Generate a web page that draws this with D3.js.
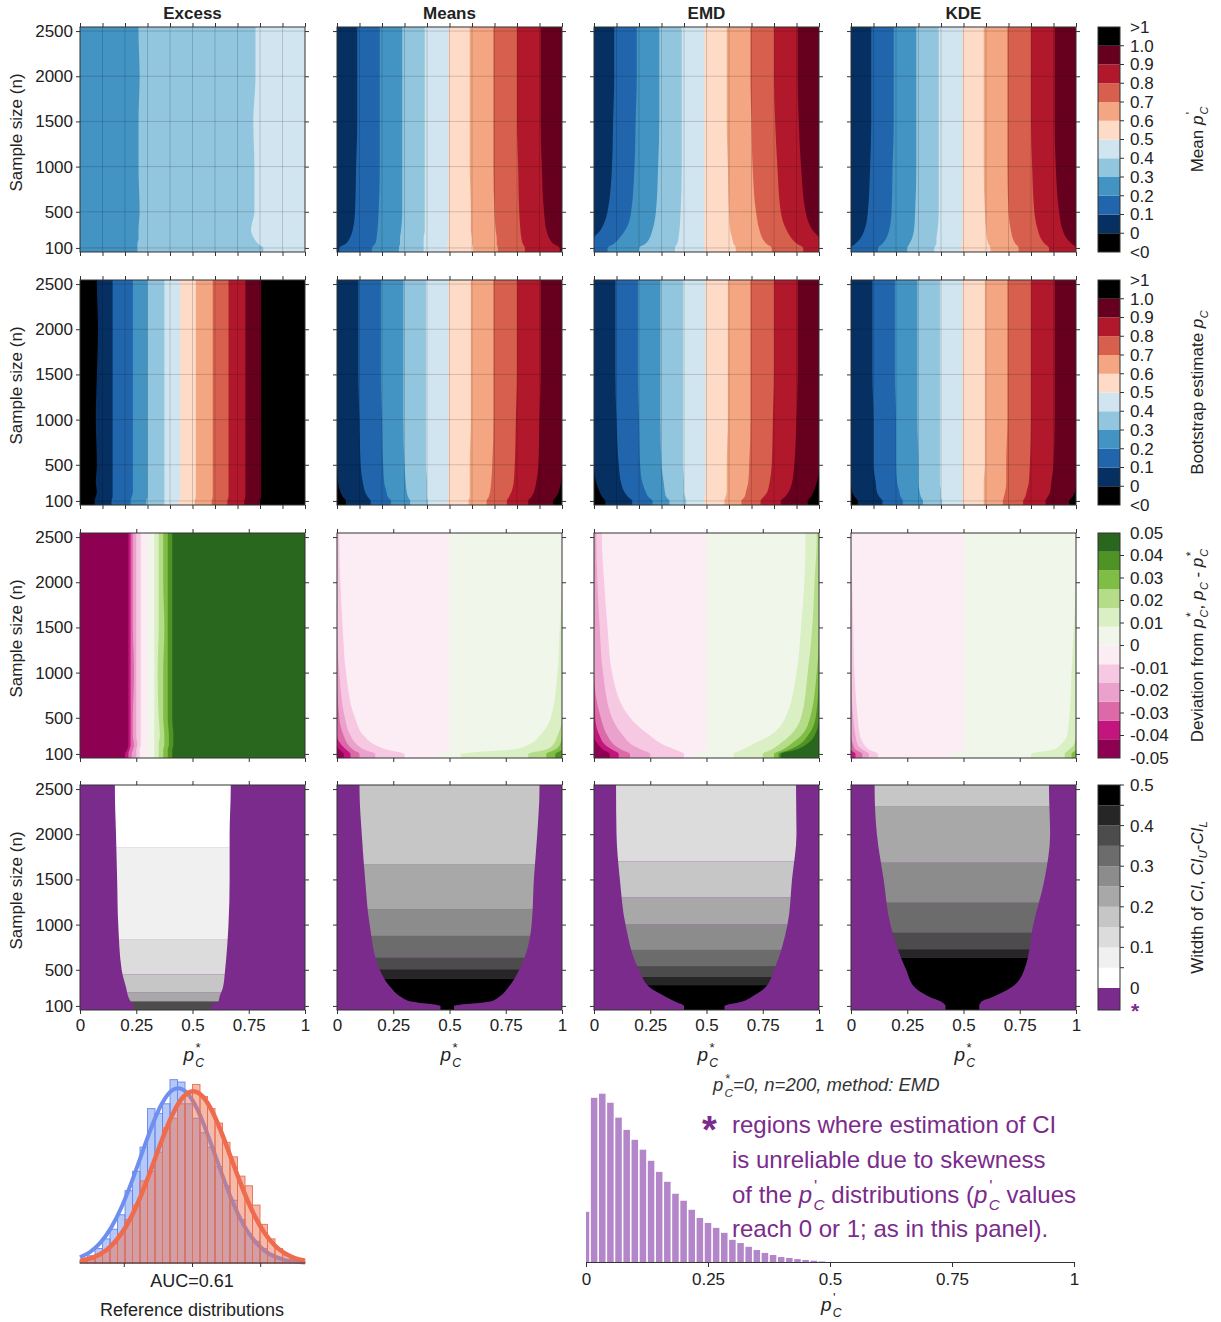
<!DOCTYPE html>
<html><head><meta charset="utf-8">
<script src="https://cdn.jsdelivr.net/npm/d3@7"></script>
<style>
body{margin:0;background:#fff}
text{font-family:"Liberation Sans",Arial,Helvetica,sans-serif;fill:#222}
</style>
</head><body><svg id="c" width="1221" height="1322"></svg>
<script>
// ================= DATA =================
const methods = ["Excess","Means","EMD","KDE"];
const nTicks = [100,500,1000,1500,2000,2500];
const xTicksFine = [0,0.1,0.2,0.3,0.4,0.5,0.6,0.7,0.8,0.9,1];
const xTicksMain = [0,0.25,0.5,0.75,1];
const xTickText = ["0","0.25","0.5","0.75","1"];
const nRead = [100,150,200,300,500,1000,1500,2000,2500];

// colour scales
const rdbuColors = ["#000000","#053061","#2166ac","#4393c3","#92c5de","#d1e5f0","#fddbc7","#f4a582","#d6604d","#b2182b","#67001f","#000000"];
const rdbuLabels = ["<0","0","0.1","0.2","0.3","0.4","0.5","0.6","0.7","0.8","0.9","1.0",">1"];
const piygColors = ["#8e0152","#c4157e","#dc6aa8","#eaa1cc","#f6c8e2","#fcedf5","#f1f6ea","#dbefc5","#b5dc88","#80bd45","#4f9325","#2a671e"];
const piygLabels = ["-0.05","-0.04","-0.03","-0.02","-0.01","0","0.01","0.02","0.03","0.04","0.05"];
const greyColors = ["#ffffff","#f0f0f0","#dcdcdc","#c6c6c6","#a8a8a8","#8c8c8c","#6c6c6c","#4c4c4c","#262626","#000000"];
const greyLabels = ["0","0.1","0.2","0.3","0.4","0.5"];
const unreliableColor = "#7b2b8c";

// Row 1: mean p'_C. first band index, then p* where each next band starts (per nRead)
const meanStart = [3,1,1,1];
const meanEdgesExcess = [
  [0.255,0.255,0.26,0.26,0.265,0.26,0.26,0.265,0.26],
  [0.815,0.79,0.775,0.76,0.775,0.775,0.77,0.78,0.78]];
const meanEdgesMeans = [
  [0.01,0.04,0.055,0.07,0.08,0.085,0.09,0.09,0.09],
  [0.155,0.17,0.175,0.18,0.185,0.19,0.19,0.19,0.19],
  [0.275,0.28,0.28,0.285,0.29,0.29,0.29,0.29,0.29],
  [0.385,0.385,0.385,0.39,0.39,0.39,0.39,0.39,0.39],
  [0.49,0.49,0.495,0.495,0.495,0.495,0.495,0.495,0.495],
  [0.605,0.6,0.6,0.595,0.595,0.59,0.59,0.59,0.59],
  [0.715,0.71,0.71,0.705,0.7,0.695,0.695,0.695,0.695],
  [0.835,0.825,0.82,0.815,0.81,0.805,0.8,0.8,0.8],
  [0.99,0.96,0.945,0.93,0.92,0.91,0.905,0.905,0.905]];
const meanEdgesEMD = [
  [0.0,0.0,0.0,0.03,0.06,0.08,0.085,0.09,0.09],
  [0.06,0.09,0.11,0.14,0.165,0.18,0.185,0.19,0.19],
  [0.2,0.23,0.245,0.26,0.275,0.285,0.29,0.29,0.29],
  [0.36,0.37,0.375,0.38,0.385,0.39,0.39,0.39,0.39],
  [0.49,0.49,0.49,0.49,0.49,0.49,0.49,0.49,0.49],
  [0.63,0.62,0.615,0.605,0.6,0.595,0.59,0.59,0.59],
  [0.79,0.765,0.75,0.735,0.72,0.705,0.7,0.695,0.695],
  [0.93,0.9,0.88,0.855,0.83,0.815,0.805,0.8,0.8],
  [1.0,1.0,1.0,0.97,0.94,0.92,0.91,0.905,0.905]];
const meanEdgesKDE = [
  [0.0,0.02,0.04,0.06,0.075,0.085,0.09,0.09,0.09],
  [0.12,0.14,0.155,0.17,0.18,0.185,0.19,0.19,0.19],
  [0.25,0.26,0.27,0.28,0.285,0.29,0.29,0.29,0.29],
  [0.37,0.38,0.38,0.385,0.39,0.39,0.39,0.39,0.39],
  [0.49,0.49,0.495,0.495,0.495,0.495,0.495,0.495,0.495],
  [0.62,0.61,0.605,0.6,0.595,0.59,0.59,0.59,0.59],
  [0.745,0.73,0.72,0.71,0.7,0.695,0.695,0.695,0.695],
  [0.88,0.86,0.845,0.83,0.815,0.805,0.8,0.8,0.8],
  [1.0,0.98,0.96,0.94,0.925,0.91,0.905,0.905,0.905]];

// Row 2: bootstrap estimate p_C (edges at thresholds 0,0.1,...,1.0)
const bootStart = [0,0,0,0];
const bootEdgesExcess = [
  [0.065,0.07,0.075,0.07,0.075,0.07,0.075,0.08,0.075],
  [0.14,0.145,0.145,0.145,0.145,0.145,0.145,0.145,0.145],
  [0.225,0.23,0.235,0.235,0.235,0.235,0.235,0.235,0.235],
  [0.295,0.3,0.3,0.3,0.3,0.3,0.3,0.3,0.3],
  [0.375,0.375,0.375,0.375,0.375,0.375,0.375,0.375,0.375],
  [0.44,0.445,0.445,0.445,0.445,0.445,0.445,0.445,0.445],
  [0.51,0.515,0.515,0.515,0.515,0.515,0.515,0.515,0.515],
  [0.585,0.59,0.59,0.59,0.59,0.59,0.59,0.59,0.59],
  [0.655,0.66,0.66,0.66,0.66,0.66,0.66,0.66,0.66],
  [0.73,0.735,0.735,0.735,0.735,0.735,0.735,0.735,0.735],
  [0.8,0.805,0.805,0.805,0.805,0.805,0.805,0.805,0.805]];
const bootEdgesMeans = [
  [0.04,0.025,0.015,0.005,0,0,0,0,0],
  [0.15,0.135,0.125,0.115,0.105,0.1,0.095,0.095,0.095],
  [0.24,0.225,0.22,0.21,0.205,0.2,0.195,0.195,0.195],
  [0.325,0.315,0.31,0.305,0.3,0.295,0.295,0.295,0.295],
  [0.405,0.4,0.4,0.4,0.395,0.395,0.395,0.395,0.395],
  [0.49,0.495,0.495,0.495,0.495,0.495,0.495,0.495,0.495],
  [0.585,0.59,0.59,0.59,0.59,0.595,0.595,0.595,0.595],
  [0.665,0.675,0.68,0.685,0.69,0.695,0.695,0.695,0.695],
  [0.755,0.765,0.775,0.785,0.79,0.795,0.8,0.8,0.8],
  [0.85,0.865,0.875,0.885,0.895,0.9,0.905,0.905,0.905],
  [0.96,0.975,0.985,0.995,1,1,1,1,1]];
const bootEdgesEMD = [
  [0.05,0.035,0.025,0.01,0,0,0,0,0],
  [0.17,0.15,0.135,0.12,0.11,0.1,0.095,0.095,0.095],
  [0.26,0.24,0.23,0.215,0.205,0.2,0.195,0.195,0.195],
  [0.335,0.32,0.315,0.31,0.3,0.295,0.295,0.295,0.295],
  [0.41,0.405,0.4,0.4,0.395,0.395,0.395,0.395,0.395],
  [0.49,0.49,0.495,0.495,0.495,0.495,0.495,0.495,0.495],
  [0.58,0.585,0.59,0.59,0.59,0.595,0.595,0.595,0.595],
  [0.655,0.67,0.675,0.685,0.69,0.695,0.695,0.695,0.695],
  [0.74,0.755,0.77,0.78,0.79,0.795,0.8,0.8,0.8],
  [0.83,0.85,0.865,0.88,0.89,0.9,0.905,0.905,0.905],
  [0.95,0.965,0.975,0.99,1,1,1,1,1]];
const bootEdgesKDE = [
  [0.03,0.015,0.005,0,0,0,0,0,0],
  [0.14,0.125,0.115,0.11,0.1,0.1,0.095,0.095,0.095],
  [0.23,0.22,0.215,0.205,0.2,0.2,0.195,0.195,0.195],
  [0.32,0.31,0.305,0.3,0.3,0.295,0.295,0.295,0.295],
  [0.405,0.4,0.4,0.395,0.395,0.395,0.395,0.395,0.395],
  [0.495,0.495,0.495,0.495,0.495,0.495,0.495,0.495,0.495],
  [0.59,0.59,0.59,0.59,0.595,0.595,0.595,0.595,0.595],
  [0.675,0.68,0.685,0.69,0.69,0.695,0.695,0.695,0.695],
  [0.765,0.775,0.78,0.79,0.795,0.8,0.8,0.8,0.8],
  [0.865,0.875,0.885,0.89,0.9,0.905,0.905,0.905,0.905],
  [0.97,0.985,0.995,1,1,1,1,1,1]];

// Row 3 Excess: vertical bands (piyg index 0 first, then edges for index 1..11)
const devEdgesExcess = [
  [0.2,0.21,0.215,0.215,0.215,0.215,0.215,0.215,0.215],
  [0.215,0.22,0.225,0.225,0.225,0.225,0.225,0.225,0.225],
  [0.23,0.235,0.24,0.235,0.235,0.24,0.235,0.235,0.235],
  [0.25,0.25,0.255,0.25,0.25,0.25,0.25,0.25,0.25],
  [0.265,0.265,0.27,0.27,0.27,0.27,0.27,0.27,0.27],
  [0.3,0.3,0.3,0.3,0.3,0.3,0.3,0.3,0.3],
  [0.33,0.33,0.33,0.33,0.33,0.33,0.33,0.33,0.33],
  [0.35,0.35,0.35,0.355,0.35,0.345,0.35,0.35,0.35],
  [0.37,0.37,0.375,0.375,0.37,0.37,0.375,0.37,0.37],
  [0.39,0.39,0.395,0.395,0.39,0.39,0.39,0.39,0.39],
  [0.41,0.41,0.415,0.415,0.41,0.41,0.41,0.41,0.41]];
// Row 3 others: pink regions grow from p*=0 (right edge given, indices 4..0),
// green regions grow from p*=1 (left edge given, indices 7..11), pale green from zero edge
const devZeroEdge = [0.45,0.5,0.5,0.5,0.5,0.5,0.5,0.5,0.5];
const devPinkMeans = [
  [0.30,0.22,0.17,0.12,0.08,0.04,0.025,0.015,0.01],
  [0.17,0.12,0.09,0.06,0.035,0.01,0,0,0],
  [0.10,0.07,0.05,0.03,0.01,0,0,0,0],
  [0.06,0.04,0.02,0,0,0,0,0,0],
  [0.03,0.01,0,0,0,0,0,0,0]];
const devGreenMeans = [
  [0.55,0.78,0.85,0.9,0.95,0.98,0.99,1,1],
  [0.85,0.93,0.96,0.98,1,1,1,1,1],
  [0.93,0.97,0.99,1,1,1,1,1,1],
  [0.97,1,1,1,1,1,1,1,1],
  [1,1,1,1,1,1,1,1,1]];
const devPinkEMD = [
  [0.40,0.36,0.31,0.25,0.16,0.08,0.06,0.045,0.035],
  [0.25,0.21,0.17,0.13,0.08,0.04,0.025,0.015,0.01],
  [0.16,0.12,0.09,0.06,0.03,0,0,0,0],
  [0.11,0.08,0.05,0.025,0.005,0,0,0,0],
  [0.07,0.04,0.02,0,0,0,0,0,0]];
const devGreenEMD = [
  [0.62,0.66,0.70,0.78,0.85,0.90,0.92,0.935,0.94],
  [0.75,0.79,0.82,0.87,0.92,0.95,0.97,0.98,0.99],
  [0.80,0.84,0.87,0.92,0.96,0.99,1,1,1],
  [0.82,0.87,0.91,0.95,0.985,1,1,1,1],
  [0.83,0.90,0.94,0.98,1,1,1,1,1]];
const devPinkKDE = [
  [0.12,0.08,0.06,0.04,0.03,0.015,0.01,0.005,0],
  [0.08,0.05,0.03,0.02,0.01,0,0,0,0],
  [0.05,0.02,0.01,0,0,0,0,0,0],
  [0.02,0,0,0,0,0,0,0,0],
  [0,0,0,0,0,0,0,0,0]];
const devGreenKDE = [
  [0.8,0.9,0.93,0.96,0.97,0.98,0.99,1,1],
  [0.95,0.97,0.99,1,1,1,1,1,1],
  [0.98,1,1,1,1,1,1,1,1],
  [1,1,1,1,1,1,1,1,1],
  [1,1,1,1,1,1,1,1,1]];

// Row 4: CI width. reliable region [left,right] per nRead; grey level bands from n upwards
const ciLeft = [
  [0.24,0.225,0.215,0.205,0.185,0.17,0.165,0.16,0.155],
  [0.46,0.33,0.285,0.24,0.19,0.145,0.125,0.11,0.10],
  [0.40,0.36,0.32,0.25,0.20,0.14,0.115,0.10,0.098],
  [0.42,0.40,0.35,0.285,0.245,0.175,0.145,0.115,0.105]];
const ciRight = [
  [0.58,0.615,0.62,0.635,0.645,0.66,0.665,0.665,0.67],
  [0.52,0.68,0.72,0.76,0.81,0.865,0.875,0.89,0.90],
  [0.58,0.66,0.70,0.76,0.80,0.86,0.88,0.90,0.898],
  [0.57,0.58,0.63,0.71,0.77,0.81,0.86,0.885,0.88]];
const ciBandN = [
  [55,150,250,450,840,1850],
  [55,400,505,634,875,1170,1670],
  [55,330,420,540,720,1000,1300,1700],
  [55,634,727,911,1243,1685,2312]];
const ciBandLevel = [
  [7,4,3,2,1,0],
  [9,8,7,6,5,4,3],
  [9,8,7,6,5,4,3,2],
  [9,8,7,6,5,4,3]];

// Bottom-left: reference distributions (histogram densities per bin, fitted curves)
const refBinStart = -3.3, refBinWidth = 0.22;
const refBlue = [0.005,0.015,0.03,0.05,0.07,0.10,0.15,0.19,0.24,0.32,0.31,0.33,0.38,0.375,0.33,0.30,0.27,0.24,0.20,0.16,0.13,0.09,0.06,0.045,0.03,0.018,0.01,0.006,0.003,0.001];
const refOrange = [0.003,0.008,0.015,0.025,0.04,0.06,0.09,0.12,0.17,0.19,0.23,0.28,0.30,0.33,0.355,0.37,0.345,0.32,0.29,0.25,0.22,0.18,0.16,0.12,0.08,0.05,0.03,0.015,0.008,0.004];
const curveX = [-3.3,-3.0,-2.7,-2.4,-2.1,-1.8,-1.5,-1.2,-0.9,-0.6,-0.3,0,0.3,0.6,0.9,1.2,1.5,1.8,2.1,2.4,2.7,3.0,3.3];
const curveBlue = [0.0118,0.0232,0.0423,0.0718,0.113,0.165,0.224,0.282,0.330,0.358,0.360,0.337,0.293,0.236,0.177,0.1225,0.079,0.0474,0.0263,0.0136,0.0065,0.0029,0.0012];
const curveOrange = [0.0044,0.0094,0.0187,0.0345,0.0593,0.0951,0.1418,0.1969,0.2543,0.3056,0.342,0.3561,0.3452,0.3115,0.2615,0.2045,0.1488,0.1008,0.0635,0.0373,0.0203,0.0103,0.0049];
const refTicks = [-2,0,2];

// Bottom-right: distribution of p'_C (p*_C=0, n=200, EMD), bins centred on k/60
const pBinWidth = 1/60;
const pDensity = [1.72,5.63,5.77,5.46,4.95,4.53,4.19,3.85,3.47,3.09,2.75,2.34,2.10,1.79,1.51,1.34,1.17,1.0,0.76,0.65,0.52,0.41,0.31,0.24,0.17,0.14,0.10,0.07,0.045,0.017];

// ================= DRAWING =================
const svg = d3.select("#c");
const colX = [80,337,594,851], rowY = [27,280,533,785], PW = 225, PH = 225;
const nDomain = [55,2545];
const FS = 17;
let clipId = 0;

// italic p with subscript C and optional superscript stacked above the C
function pLabel(t, sup, fs, fill){
  const sub = 0.3*fs;
  const ts = [];
  ts.push(t.append("tspan").attr("font-style","italic").text("p"));
  if(sup){
    const sw = (sup==="*"?0.39:0.19)*0.7*fs;
    ts.push(t.append("tspan").attr("font-size",0.7*fs).attr("dx",0.08*fs).attr("dy",-0.45*fs).text(sup));
    ts.push(t.append("tspan").attr("font-size",0.64*fs).attr("font-style","italic").attr("dx",-sw-0.02*fs).attr("dy",0.45*fs+sub).text("C"));
  } else {
    ts.push(t.append("tspan").attr("font-size",0.64*fs).attr("font-style","italic").attr("dx",0.03*fs).attr("dy",sub).text("C"));
  }
  if(fill) ts.forEach(s=>s.style("fill",fill));
  return sub;
}

function extPts(arr){
  const pts = nRead.map((n,i)=>({n, p:arr[i]}));
  pts.unshift({n:nDomain[0], p:arr[0]});
  pts.push({n:nDomain[1], p:arr[arr.length-1]});
  return pts.reverse();
}

function bandPanels(g, x, y, colors, start, edges){
  g.append("rect").attr("width",PW).attr("height",PH).attr("fill",colors[start]);
  edges.forEach((e,k)=>{
    const area = d3.area().curve(d3.curveMonotoneY).y(d=>y(d.n)).x0(d=>x(d.p)).x1(x(1));
    g.append("path").datum(extPts(e)).attr("d",area).attr("fill",colors[start+k+1]);
  });
}

function devPanel(g, x, y, pink, green){
  g.append("rect").attr("width",PW).attr("height",PH).attr("fill",piygColors[5]);
  const right = d3.area().curve(d3.curveMonotoneY).y(d=>y(d.n)).x0(d=>x(d.p)).x1(x(1));
  const left = d3.area().curve(d3.curveMonotoneY).y(d=>y(d.n)).x0(x(0)).x1(d=>x(d.p));
  g.append("path").datum(extPts(devZeroEdge)).attr("d",right).attr("fill",piygColors[6]);
  green.forEach((e,k)=>g.append("path").datum(extPts(e)).attr("d",right).attr("fill",piygColors[7+k]));
  pink.forEach((e,k)=>g.append("path").datum(extPts(e)).attr("d",left).attr("fill",piygColors[4-k]));
}

function ciPanel(g, x, y, c){
  g.append("rect").attr("width",PW).attr("height",PH).attr("fill",unreliableColor);
  const id = "u"+(clipId++);
  const pts = nRead.map((n,i)=>({n, l:ciLeft[c][i], r:ciRight[c][i]}));
  pts.unshift({n:nRead[0]-45, l:ciLeft[c][0], r:ciRight[c][0]});
  pts.push({n:nDomain[1], l:ciLeft[c][8], r:ciRight[c][8]});
  pts.reverse();
  g.append("clipPath").attr("id",id).append("path")
    .attr("d", d3.area().curve(d3.curveMonotoneY).y(d=>y(d.n)).x0(d=>x(d.l)).x1(d=>x(d.r))(pts));
  const inner = g.append("g").attr("clip-path",`url(#${id})`);
  const bn = ciBandN[c];
  bn.forEach((n0,k)=>{
    const n1 = k+1<bn.length ? bn[k+1] : nDomain[1];
    inner.append("rect").attr("x",0).attr("width",PW)
      .attr("y",y(n1)).attr("height",y(n0)-y(n1)).attr("fill",greyColors[ciBandLevel[c][k]]);
  });
}

const meanSets = [meanEdgesExcess,meanEdgesMeans,meanEdgesEMD,meanEdgesKDE];
const bootSets = [bootEdgesExcess,bootEdgesMeans,bootEdgesEMD,bootEdgesKDE];
const pinkSets = [null,devPinkMeans,devPinkEMD,devPinkKDE];
const greenSets = [null,devGreenMeans,devGreenEMD,devGreenKDE];

for(let r=0;r<4;r++){
  for(let c=0;c<4;c++){
    const g = svg.append("g").attr("transform",`translate(${colX[c]},${rowY[r]})`);
    const x = d3.scaleLinear([0,1],[0,PW]);
    const y = d3.scaleLinear(nDomain,[PH,0]);
    const cid = "p"+(clipId++);
    g.append("clipPath").attr("id",cid).append("rect").attr("width",PW).attr("height",PH);
    const body = g.append("g").attr("clip-path",`url(#${cid})`);
    if(r===0) bandPanels(body,x,y,rdbuColors,meanStart[c],meanSets[c]);
    if(r===1) bandPanels(body,x,y,rdbuColors,bootStart[c],bootSets[c]);
    if(r===2){ if(c===0) bandPanels(body,x,y,piygColors,0,devEdgesExcess); else devPanel(body,x,y,pinkSets[c],greenSets[c]); }
    if(r===3) ciPanel(body,x,y,c);
    const xt = r<2 ? xTicksFine : xTicksMain;
    if(r<2){
      body.selectAll("line.gx").data(xt.slice(1,-1)).join("line")
        .attr("x1",d=>x(d)).attr("x2",d=>x(d)).attr("y1",0).attr("y2",PH)
        .attr("stroke","#000").attr("stroke-opacity",0.16).attr("stroke-width",1);
      body.selectAll("line.gy").data(nTicks).join("line")
        .attr("y1",d=>y(d)).attr("y2",d=>y(d)).attr("x1",0).attr("x2",PW)
        .attr("stroke","#000").attr("stroke-opacity",0.16).attr("stroke-width",1);
    }
    const ax = (a)=>a.tickSizeOuter(0).tickSizeInner(4);
    const gl = g.append("g").call(ax(d3.axisLeft(y).tickValues(nTicks)).tickFormat(c===0?d3.format("d"):""));
    g.append("g").attr("transform",`translate(${PW},0)`).call(ax(d3.axisRight(y).tickValues(nTicks)).tickFormat(""));
    g.append("g").call(ax(d3.axisTop(x).tickValues(xt)).tickFormat(""));
    const gb = g.append("g").attr("transform",`translate(0,${PH})`)
      .call(ax(d3.axisBottom(x).tickValues(xt)).tickFormat(r===3?(d,i)=>xTickText[i]:""));
    g.selectAll(".domain").remove();
    g.selectAll(".tick line").attr("stroke","#333");
    g.selectAll(".tick text").attr("font-size",FS).attr("font-family",'"Liberation Sans",Arial,sans-serif').attr("fill","#222");
    gl.selectAll(".tick text").attr("x",-7);
    gb.selectAll(".tick text").attr("y",9);
    g.append("rect").attr("width",PW).attr("height",PH).attr("fill","none").attr("stroke","#333").attr("stroke-width",1);
    if(r===0) g.append("text").attr("x",PW/2).attr("y",-8).attr("text-anchor","middle")
      .attr("font-weight","bold").attr("font-size",FS).text(methods[c]);
    if(c===0) g.append("text").attr("transform",`translate(-58,${PH/2-7}) rotate(-90)`)
      .attr("text-anchor","middle").attr("font-size",FS).text("Sample size (n)");
    if(r===3){
      const t = g.append("text").attr("x",PW/2-9).attr("y",PH+51).attr("font-size",FS+2);
      pLabel(t,"*",FS+2);
    }
  }
}

// ---- colour bars ----
const cbX = 1098, cbW = 22;
function colourbar(domain, colors, y0, y1, labels, labelVals, tickVals){
  const g = svg.append("g").attr("transform",`translate(${cbX},0)`);
  const s = d3.scaleLinear(domain,[y1,y0]);
  const step = (domain[1]-domain[0])/colors.length;
  colors.forEach((col,k)=>{
    const a = domain[0]+k*step, b = a+step;
    g.append("rect").attr("x",0).attr("width",cbW).attr("y",s(b)).attr("height",s(a)-s(b)).attr("fill",col);
  });
  g.selectAll("line.t").data(tickVals).join("line").attr("x1",cbW).attr("x2",cbW+4)
    .attr("y1",d=>s(d)).attr("y2",d=>s(d)).attr("stroke","#333");
  g.selectAll("text.l").data(labels).join("text").attr("x",cbW+10).attr("y",(d,i)=>s(labelVals[i]))
    .attr("dy","0.35em").attr("font-size",FS).text(d=>d);
  return {g,s};
}
for(let r=0;r<2;r++){
  const vals = d3.range(13).map(i=>-0.1+0.1*i);
  const cb = colourbar([-0.1,1.1],rdbuColors,rowY[r],rowY[r]+PH,rdbuLabels,vals,vals.slice(1,-1));
  cb.g.append("rect").attr("width",cbW).attr("y",rowY[r]).attr("height",PH).attr("fill","none").attr("stroke","#333");
}
{
  const vals = d3.range(11).map(i=>-0.05+0.01*i);
  const cb = colourbar([-0.05,0.05],piygColors,rowY[2],rowY[2]+PH,piygLabels,vals,vals.slice(1,-1));
  cb.g.append("rect").attr("width",cbW).attr("y",rowY[2]).attr("height",PH).attr("fill","none").attr("stroke","#333");
}
{
  const gy0 = rowY[3], gy1 = rowY[3]+203;
  const lv = [0,0.1,0.2,0.3,0.4,0.5];
  const cb = colourbar([0,0.5],greyColors,gy0,gy1,greyLabels,lv,d3.range(1,11).map(i=>i*0.05));
  cb.g.append("rect").attr("width",cbW).attr("y",gy1).attr("height",PH-203).attr("fill",unreliableColor);
  cb.g.append("rect").attr("width",cbW).attr("y",rowY[3]).attr("height",PH).attr("fill","none").attr("stroke","#333");
  cb.g.append("text").attr("x",cbW+11).attr("y",gy1+30).attr("font-size",21).attr("font-weight","bold")
    .style("fill",unreliableColor).text("*");
}
function cbTitle(r, build){
  const t = svg.append("text").attr("transform",`translate(1203,${rowY[r]+PH/2}) rotate(-90)`)
    .attr("text-anchor","middle").attr("font-size",FS);
  build(t);
}
cbTitle(0,t=>{ t.append("tspan").text("Mean "); pLabel(t,"'",FS); });
cbTitle(1,t=>{ t.append("tspan").text("Bootstrap estimate "); pLabel(t,"",FS); });
cbTitle(2,t=>{ t.append("tspan").text("Deviation from "); let s=pLabel(t,"*",FS);
  t.append("tspan").attr("dy",-s).text(", "); s=pLabel(t,"",FS);
  t.append("tspan").attr("dy",-s).text(" - "); pLabel(t,"*",FS); });
cbTitle(3,t=>{ t.append("tspan").text("Witdth of "); t.append("tspan").attr("font-style","italic").text("CI");
  t.append("tspan").text(", "); t.append("tspan").attr("font-style","italic").text("CI");
  t.append("tspan").attr("font-size",FS*0.68).attr("font-style","italic").attr("dy",4).text("U");
  t.append("tspan").attr("dy",-4).text("-"); t.append("tspan").attr("font-style","italic").text("CI");
  t.append("tspan").attr("font-size",FS*0.68).attr("font-style","italic").attr("dy",4).text("L"); });

// ---- bottom-left: reference distributions ----
{
  const x = d3.scaleLinear([-3.3,3.3],[80,305]);
  const y = d3.scaleLinear([0,0.4],[1263,1070]);
  const g = svg.append("g");
  const bars = (data, fill, stroke)=> g.append("g").selectAll("rect").data(data).join("rect")
    .attr("x",(d,i)=>x(refBinStart+i*refBinWidth)).attr("width",x(refBinWidth)-x(0))
    .attr("y",d=>y(d)).attr("height",d=>y(0)-y(d))
    .attr("fill",fill).attr("stroke",stroke).attr("stroke-width",1);
  const line = d3.line().curve(d3.curveNatural).x((d,i)=>x(curveX[i])).y(d=>y(d));
  bars(refBlue,"rgba(110,145,240,0.5)","rgba(100,135,235,0.9)");
  g.append("path").datum(curveBlue).attr("d",line).attr("fill","none").attr("stroke","#6f8ff0").attr("stroke-width",4);
  bars(refOrange,"rgba(238,118,88,0.5)","rgba(232,110,80,0.9)");
  g.append("path").datum(curveOrange).attr("d",line).attr("fill","none").attr("stroke","#ee6b4d").attr("stroke-width",4.5);
  g.append("line").attr("x1",80).attr("x2",305).attr("y1",1263).attr("y2",1263).attr("stroke","#333");
  g.selectAll("line.tk").data(refTicks).join("line").attr("x1",d=>x(d)).attr("x2",d=>x(d))
    .attr("y1",1263).attr("y2",1267).attr("stroke","#333");
  g.append("text").attr("x",192).attr("y",1287).attr("text-anchor","middle").attr("font-size",18).text("AUC=0.61");
  g.append("text").attr("x",192).attr("y",1316).attr("text-anchor","middle").attr("font-size",18).text("Reference distributions");
}

// ---- bottom-right: p'_C distribution ----
{
  const x = d3.scaleLinear([0,1],[586,1074]);
  const y = d3.scaleLinear([0,6],[1262,1087]);
  const g = svg.append("g");
  g.selectAll("rect").data(pDensity).join("rect")
    .attr("x",(d,i)=> i===0 ? x(0) : x(i*pBinWidth - pBinWidth/2)+0.8)
    .attr("width",(d,i)=> i===0 ? x(pBinWidth/2)-x(0)-0.8 : x(pBinWidth)-x(0)-1.6)
    .attr("y",d=>y(d)).attr("height",d=>y(0)-y(d)).attr("fill","#b386c9");
  g.append("g").attr("transform","translate(0,1262)")
    .call(d3.axisBottom(x).tickValues(xTicksMain).tickFormat((d,i)=>xTickText[i]).tickSizeOuter(0).tickSizeInner(5))
    .call(a=>{a.select(".domain").attr("stroke","#333"); a.selectAll(".tick line").attr("stroke","#333");
      a.selectAll(".tick text").attr("font-size",FS).attr("y",11).attr("fill","#222").attr("font-family",'"Liberation Sans",Arial,sans-serif');});
  const t = g.append("text").attr("x",821).attr("y",1311).attr("font-size",FS+2);
  pLabel(t,"'",FS+2);
  const tt = g.append("text").attr("x",713).attr("y",1091).attr("font-size",18.5).attr("font-style","italic").style("fill","#333");
  const s = pLabel(tt,"*",18.5,"#333");
  tt.append("tspan").attr("dy",-s).text("=0, n=200, method: EMD").style("fill","#333");
  const purple = unreliableColor;
  svg.append("text").attr("x",702).attr("y",1143).attr("font-size",38).attr("font-weight","bold").style("fill",purple).text("*");
  const FA = 24;
  const ly = [1133,1168,1203,1237];
  const lines = ["regions where estimation of CI","is unreliable due to skewness",null,"reach 0 or 1; as in this panel)."];
  lines.forEach((l,i)=>{
    const tx = svg.append("text").attr("x",732).attr("y",ly[i]).attr("font-size",FA).style("fill",purple);
    if(l) tx.text(l);
    else {
      tx.append("tspan").text("of the ").style("fill",purple);
      let sh = pLabel(tx,"'",FA,purple);
      tx.append("tspan").attr("dy",-sh).text(" distributions (").style("fill",purple);
      sh = pLabel(tx,"'",FA,purple);
      tx.append("tspan").attr("dy",-sh).text(" values").style("fill",purple);
    }
  });
}
</script></body></html>
